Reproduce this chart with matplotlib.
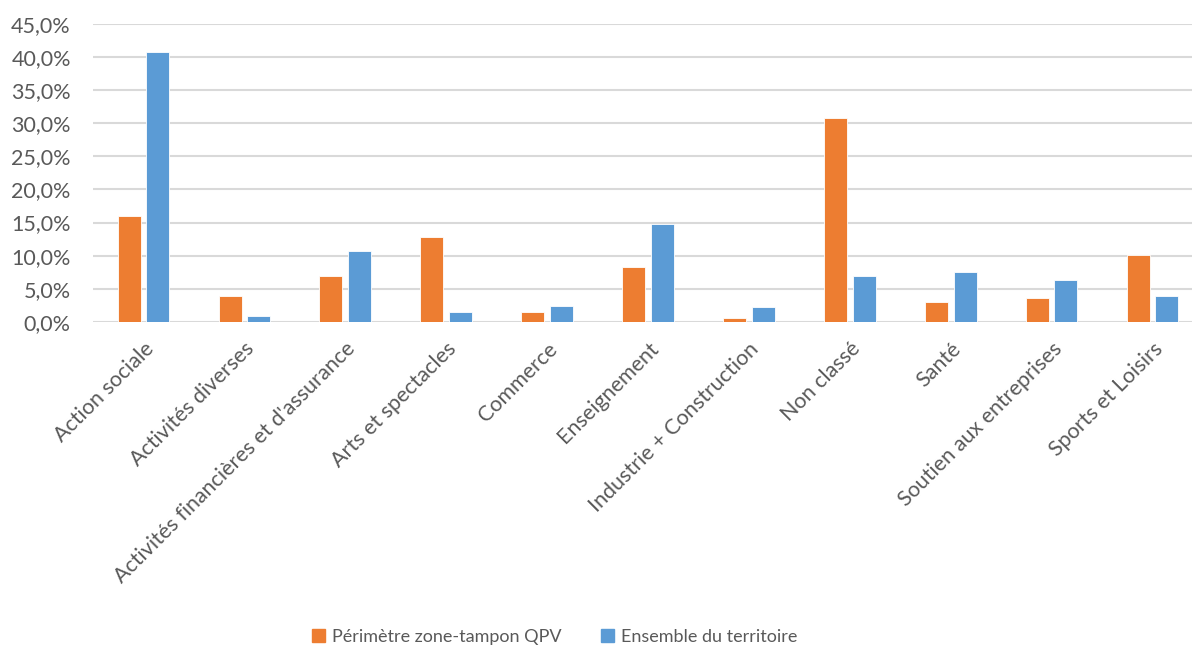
import matplotlib
matplotlib.use("Agg")
import matplotlib.pyplot as plt
import numpy as np
from matplotlib.ticker import FuncFormatter
from matplotlib.patches import Patch

categories = ["Action sociale", "Activités diverses", "Activités financières et d'assurance",
              "Arts et spectacles", "Commerce", "Enseignement", "Industrie + Construction",
              "Non classé", "Santé", "Soutien aux entreprises", "Sports et Loisirs"]
qpv = [16.0, 3.9, 6.9, 12.8, 1.45, 8.35, 0.6, 30.8, 2.97, 3.57, 10.06]
ensemble = [40.8, 0.95, 10.75, 1.46, 2.46, 14.8, 2.2, 6.94, 7.54, 6.29, 3.92]
series_names = ["Périmètre zone-tampon QPV", "Ensemble du territoire"]
yticks = list(range(0, 50, 5))

plt.rcParams['font.family'] = ['Lato', 'DejaVu Sans']
W, H = 1192, 650
fig = plt.figure(figsize=(W / 100, H / 100), dpi=100)
left, right, bottom, top = 93, 1203, 322, 23.7
ax = fig.add_axes([left / W, (H - bottom) / H, (right - left) / W, (bottom - top) / H])

x = np.arange(len(categories))
bw = 0.228
orange = '#ED7D31'
blue = '#5B9BD5'
ax.bar(x - 0.142, qpv, bw, color=orange, edgecolor='white', linewidth=0.6, zorder=3)
ax.bar(x + 0.142, ensemble, bw, color=blue, edgecolor='white', linewidth=0.6, zorder=3)

ax.set_xlim(-0.5, len(categories) - 0.5)
ax.set_ylim(0, 45)
ax.set_yticks(yticks)
ax.yaxis.set_major_formatter(FuncFormatter(lambda v, p: f"{v:.1f}%".replace('.', ',')))
ax.grid(axis='y', color='#d9d9d9', linewidth=1.5, zorder=0)
for s in ax.spines.values():
    s.set_visible(False)
ax.tick_params(axis='both', length=0, colors='#595959', labelsize=15.5)
ax.tick_params(axis='y', pad=16)
ax.set_xticks(x)
ax.set_xticklabels(categories, rotation=45, ha='right', rotation_mode='anchor')
ax.tick_params(axis='x', pad=12)

handles = [Patch(color=orange), Patch(color=blue)]
fig.legend(handles, series_names, loc='center', bbox_to_anchor=(555 / W, 1 - 637 / H),
           ncol=2, frameon=False, fontsize=13, handlelength=0.7, handleheight=0.7,
           columnspacing=2.2, handletextpad=0.4, labelcolor='#595959')

fig.savefig("out.png", dpi=100)
